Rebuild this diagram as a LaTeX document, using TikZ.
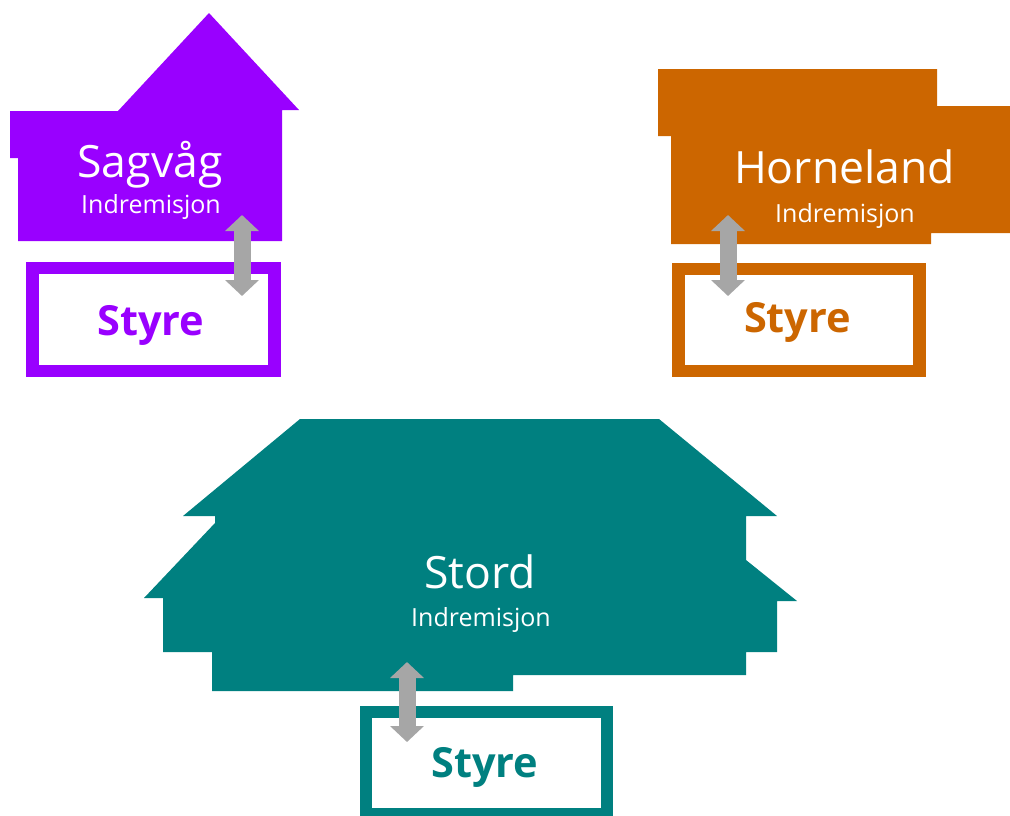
\documentclass[tikz,border=0pt]{standalone}
\usepackage{fontspec}
\setmainfont{Open Sans}
\usetikzlibrary{arrows.meta}
\definecolor{cpurple}{HTML}{9900FF}
\definecolor{corange}{HTML}{CC6600}
\definecolor{cteal}{HTML}{008080}
\definecolor{cgray}{HTML}{A6A6A6}
\begin{document}
\begin{tikzpicture}[x=1pt,y=-1pt,
  house/.style={fill=#1,draw=none},
  title/.style={text=white,font=\fontsize{44.5}{50}\selectfont,anchor=base,inner sep=0pt},
  sub/.style={text=white,font=\fontsize{25}{30}\selectfont,anchor=base,inner sep=0pt},
  boardbox/.style={draw=#1,line width=12.5pt,fill=white,rectangle,inner sep=0pt},
  boardtext/.style={text=#1,font=\bfseries\fontsize{41.5}{48}\selectfont,anchor=base,inner sep=0pt},
  link/.style={draw=cgray,line width=17pt,{Triangle[width=33pt,length=16pt]}-{Triangle[width=33pt,length=16pt]}}]
\useasboundingbox (0,0) rectangle (1010,815);

% houses
\fill[house=cpurple] (209,13) -- (299,110) -- (282,110) -- (282,241) -- (18,241) -- (18,158) -- (10,158) -- (10,111) -- (118,111) -- cycle;
\fill[house=corange] (658,69) -- (937,69) -- (937,106) -- (1010,106) -- (1010,233) -- (931,233) -- (931,244) -- (671,244) -- (671,136) -- (658,136) -- cycle;
\fill[house=cteal] (300,419) -- (659,419) -- (777,516) -- (746,516) -- (746,560) -- (797,601) -- (777,601) -- (777,652) -- (746,652) -- (746,675) -- (513,675) -- (513,691) -- (212,691) -- (212,652) -- (163,652) -- (163,598) -- (144,598) -- (215,523) -- (215,516) -- (183,516) -- cycle;

% titles
\node[title] (sagT) at (150,177) {Sagvåg};
\node[sub] (sagS) at (151,213) {Indremisjon};
\node[title] (horT) at (844.5,183) {Horneland};
\node[sub] (horS) at (845,222) {Indremisjon};
\node[title] (stoT) at (480,588) {Stord};
\node[sub] (stoS) at (481,626) {Indremisjon};

% boards
\node[boardbox=cpurple,minimum width=242pt,minimum height=103pt] (sagB) at (153.5,319.5) {};
\node[boardbox=corange,minimum width=241pt,minimum height=102pt] (horB) at (799,320) {};
\node[boardbox=cteal,minimum width=241pt,minimum height=102pt] (stoB) at (486.5,763) {};
\node[boardtext=cpurple] (sagBT) at (151,335) {Styre};
\node[boardtext=corange] (horBT) at (797.5,332) {Styre};
\node[boardtext=cteal] (stoBT) at (485,777) {Styre};

% links
\coordinate (sagA) at (242,215);
\coordinate (sagZ) at (242,296);
\coordinate (horA) at (728,215);
\coordinate (horZ) at (728,296);
\coordinate (stoA) at (407,662);
\coordinate (stoZ) at (407,742);
\draw[link] (sagA) -- (sagZ);
\draw[link] (horA) -- (horZ);
\draw[link] (stoA) -- (stoZ);
\end{tikzpicture}
\end{document}
